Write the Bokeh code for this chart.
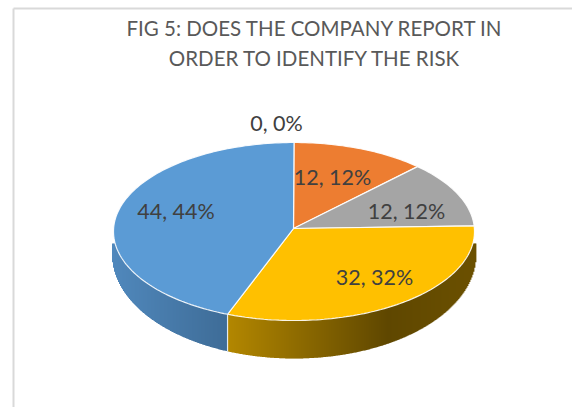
import math
from bokeh.plotting import figure
from bokeh.models import Range1d
from bokeh.core.properties import value
from bokeh.embed import file_html
from bokeh.resources import INLINE

title_lines = ["FIG 5: DOES THE COMPANY REPORT IN", "ORDER TO IDENTIFY THE RISK"]
values = [0, 12, 12, 32, 44]
percents = [0, 12, 12, 32, 44]
colors = ["#4472c4", "#ed7d31", "#a5a5a5", "#ffc000", "#5b9bd5"]

# layout (page pixels)
CX, CY, RX, RY = 293.5, 231.0, 180.5, 89.0
AX, AY = 293.0, 228.0
BCY, BRY, BRX = 254.0, 104.0, 182.0
SIDE_TOP = 243.0
label_x = [276, 332, 406, 374, 175.5]
label_y = [122, 176, 210, 276, 210]
FONT = "Lato"

def mix(a, b, t):
    ca = [int(a[i:i + 2], 16) for i in (1, 3, 5)]
    cb = [int(b[i:i + 2], 16) for i in (1, 3, 5)]
    return "#%02x%02x%02x" % tuple(round(x + (y - x) * t) for x, y in zip(ca, cb))

p = figure(width=572, height=407, output_backend="svg", toolbar_location=None,
           x_range=Range1d(0, 572), y_range=Range1d(407, 0),
           x_axis_type=None, y_axis_type=None, min_border=0,
           outline_line_color=None, background_fill_color="white", border_fill_color="white")
p.grid.visible = False

# chart-area frame
p.line([13, 13], [407, 8], line_color="#d9d9d9", line_width=2)
p.line([13, 572], [8, 8], line_color="#d9d9d9", line_width=2)

total = sum(values)
# cumulative wedge angles, clockwise from 12 o'clock
angles = [0.0]
for v in values:
    angles.append(angles[-1] + v / total * 2 * math.pi)

def point(a):
    return CX + RX * math.sin(a), CY - RY * math.cos(a)

# side wall, split where the blue wedge begins on the front
split_x = point(angles[4])[0]
xs, ys, cs = [], [], []
x = CX - BRX
while x < CX + BRX:
    mid = x + 0.5
    f = max(0.0, 1 - ((mid - CX) / BRX) ** 2)
    bottom = BCY + BRY * math.sqrt(f)
    if mid < split_x:
        t = (mid - (CX - BRX)) / (split_x - (CX - BRX))
        c = mix("#5088bc", "#3e6c97", t)
    else:
        t = min(1.0, (mid - split_x) / 160)
        c = mix("#b38700", "#5f4700", t)
        if mid > split_x + 160:
            c = mix("#5f4700", "#6b5000", (mid - split_x - 160) / 87)
    xs.append([x, x + 1.4, x + 1.4, x])
    ys.append([SIDE_TOP, SIDE_TOP, bottom, bottom])
    cs.append(c)
    x += 1
p.patches(xs, ys, fill_color=cs, line_color=None)
sx = split_x + 0.0
p.line([sx, sx], [point(angles[4])[1], BCY + BRY * math.sqrt(1 - ((sx - CX) / BRX) ** 2)],
       line_color="#ffffff", line_width=1.2, line_alpha=0.85)

# top face wedges
for i, v in enumerate(values):
    if v == 0:
        continue
    n = max(2, int(v * 3))
    arc = [angles[i] + (angles[i + 1] - angles[i]) * k / n for k in range(n + 1)]
    pts = [point(a) for a in arc]
    p.patch([AX] + [q[0] for q in pts], [AY] + [q[1] for q in pts],
            fill_color=colors[i], line_color="#ffffff", line_width=1.2, line_alpha=0.9)

# data labels
labels = [f"{v}, {q}%" for v, q in zip(values, percents)]
p.text(label_x, label_y, text=labels, text_font=value(FONT), text_font_size="21.5px",
       text_color="#404040", text_align="center", text_baseline="middle")

# title
p.text([314.5, 314.5], [27, 57], text=title_lines, text_font=value(FONT), text_font_size="20.5px",
       text_color="#595959", text_align="center", text_baseline="middle")

open("out.html", "w").write(file_html(p, INLINE))
